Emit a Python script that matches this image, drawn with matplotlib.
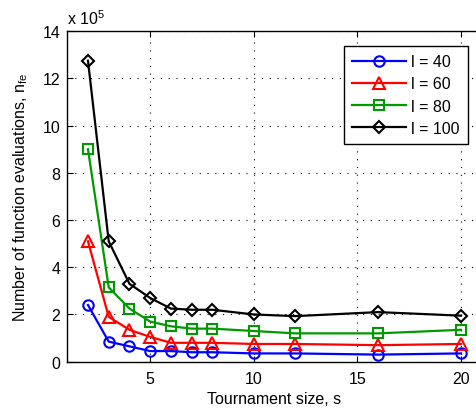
import matplotlib
matplotlib.use("Agg")
import matplotlib.pyplot as plt

# tamanho do torneio
s = [2, 3, 4, 5, 6, 7, 8, 10, 12, 16, 20]

# numero de avaliacoes (x 1e5) para cada l
nfe_40 = [2.4, 0.85, 0.65, 0.45, 0.45, 0.4, 0.4, 0.35, 0.35, 0.3, 0.35]
nfe_60 = [5.1, 1.9, 1.35, 1.05, 0.8, 0.8, 0.8, 0.75, 0.75, 0.7, 0.75]
nfe_80 = [9.0, 3.15, 2.25, 1.7, 1.5, 1.4, 1.4, 1.3, 1.2, 1.2, 1.35]
nfe_100 = [12.75, 5.1, 3.3, 2.7, 2.25, 2.2, 2.2, 2.0, 1.93, 2.1, 1.95]

rotulos = ["l = 40", "l = 60", "l = 80", "l = 100"]

plt.rcParams['font.family'] = ['Liberation Sans', 'DejaVu Sans']
plt.rcParams['mathtext.fontset'] = 'custom'
plt.rcParams['mathtext.rm'] = 'Liberation Sans'
plt.rcParams['mathtext.it'] = 'Liberation Sans'

fig = plt.figure(figsize=(4.77, 4.10), dpi=100)
ax = fig.add_axes([0.141, 0.1154, 0.869, 0.806])

series = [nfe_40, nfe_60, nfe_80, nfe_100]
cores = ["#0000ff", "#ff0000", "#009900", "#000000"]
marcadores = ["o", "^", "s", "D"]
tamanhos = [7.5, 8, 6.5, 6.5]

for ys, cor, m, ms, lab in zip(series, cores, marcadores, tamanhos, rotulos):
    vals = [v * 1e5 for v in ys]
    ax.plot(s, vals, color=cor, marker=m, markersize=ms, markerfacecolor="none",
            markeredgecolor=cor, markeredgewidth=1.5, linewidth=1.6, label=lab)

ax.set_xlim(1, 21)
ax.set_ylim(0, 14e5)
ax.set_xticks([5, 10, 15, 20])
ax.set_yticks([i * 1e5 for i in range(0, 15, 2)])
ax.set_yticklabels([str(i) for i in range(0, 15, 2)])
ax.text(0.0, 1.012, r"x 10$^{5}$", transform=ax.transAxes, fontsize=11.5,
        ha="left", va="bottom")

# grade pontilhada
ax.grid(True, color="black", linestyle=(0, (1, 6)), linewidth=0.8)
ax.tick_params(direction="in", top=True, right=True, labelsize=11.5, length=4)
ax.tick_params(axis="x", pad=7)
ax.tick_params(axis="y", pad=5)
for sp in ax.spines.values():
    sp.set_linewidth(1.0)

ax.set_xlabel("Tournament size, s", fontsize=11.5, labelpad=3)
ax.set_ylabel(r"Number of function evaluations, n$_{\mathrm{fe}}$", fontsize=11.5, labelpad=9)

leg = ax.legend(loc="upper right", bbox_to_anchor=(0.966, 0.9547), fontsize=11.5,
                fancybox=False, framealpha=1, edgecolor="black", handlelength=3.4,
                borderpad=0.5, labelspacing=0.45, handletextpad=0.3, borderaxespad=0)
leg.get_frame().set_linewidth(1.0)

fig.savefig("out.png", dpi=100)
